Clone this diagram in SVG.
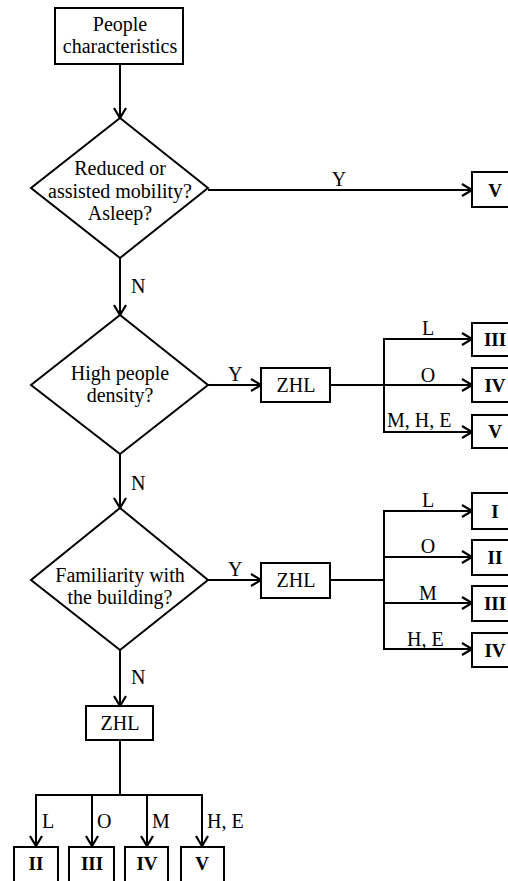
<svg xmlns="http://www.w3.org/2000/svg" width="508" height="881" viewBox="0 0 508 881" font-family="'Liberation Serif', 'DejaVu Serif', 'Times New Roman', serif">
<style>
.b{fill:#fff;stroke:#000;stroke-width:2}
.t{font-family:'Liberation Serif','DejaVu Serif',serif;font-size:20px;fill:#000}
.m{text-anchor:middle}
.r{font-weight:bold;font-size:19px}
.c{fill:none;stroke:#000;stroke-width:2}
</style>
<defs>
<marker id="ah" markerUnits="userSpaceOnUse" markerWidth="14" markerHeight="16" refX="11" refY="7" orient="auto" viewBox="0 0 14 16">
<path d="M1,1 L11,7 L1,13" fill="none" stroke="#000" stroke-width="2.2"/>
</marker>
</defs>
<rect width="508" height="881" fill="#fff"/>
<g id="connectors">
<line class="c" x1="120" y1="64" x2="120" y2="118" marker-end="url(#ah)"/>
<line class="c" x1="208" y1="190" x2="472" y2="190" marker-end="url(#ah)"/>
<line class="c" x1="120" y1="258" x2="120" y2="315" marker-end="url(#ah)"/>
<line class="c" x1="208" y1="385" x2="261" y2="385" marker-end="url(#ah)"/>
<line class="c" x1="330" y1="385" x2="383" y2="385"/>
<line class="c" x1="384" y1="339" x2="384" y2="432"/>
<line class="c" x1="383" y1="339" x2="472" y2="339" marker-end="url(#ah)"/>
<line class="c" x1="383" y1="385" x2="472" y2="385" marker-end="url(#ah)"/>
<line class="c" x1="383" y1="432" x2="472" y2="432" marker-end="url(#ah)"/>
<line class="c" x1="120" y1="454" x2="120" y2="508" marker-end="url(#ah)"/>
<line class="c" x1="208" y1="580" x2="261" y2="580" marker-end="url(#ah)"/>
<line class="c" x1="330" y1="580" x2="383" y2="580"/>
<line class="c" x1="384" y1="511" x2="384" y2="649"/>
<line class="c" x1="383" y1="511" x2="472" y2="511" marker-end="url(#ah)"/>
<line class="c" x1="383" y1="557" x2="472" y2="557" marker-end="url(#ah)"/>
<line class="c" x1="383" y1="603" x2="472" y2="603" marker-end="url(#ah)"/>
<line class="c" x1="383" y1="649" x2="472" y2="649" marker-end="url(#ah)"/>
<line class="c" x1="120" y1="650" x2="120" y2="706" marker-end="url(#ah)"/>
<line class="c" x1="120" y1="740" x2="120" y2="795"/>
<line class="c" x1="35" y1="795" x2="203" y2="795"/>
<line class="c" x1="36" y1="794" x2="36" y2="846" marker-end="url(#ah)"/>
<line class="c" x1="92" y1="794" x2="92" y2="846" marker-end="url(#ah)"/>
<line class="c" x1="147" y1="794" x2="147" y2="846" marker-end="url(#ah)"/>
<line class="c" x1="202" y1="794" x2="202" y2="846" marker-end="url(#ah)"/>
<text class="t m" x="339" y="186">Y</text>
<text class="t" x="131" y="293">N</text>
<text class="t" x="228" y="381">Y</text>
<text class="t m" x="428" y="335">L</text>
<text class="t m" x="428" y="382">O</text>
<text class="t" x="387" y="427">M, H, E</text>
<text class="t" x="131" y="490">N</text>
<text class="t" x="228" y="576">Y</text>
<text class="t m" x="428" y="507">L</text>
<text class="t m" x="428" y="553">O</text>
<text class="t m" x="428" y="600">M</text>
<text class="t" x="407" y="646">H, E</text>
<text class="t" x="131" y="684">N</text>
<text class="t" x="42" y="828">L</text>
<text class="t" x="97" y="828">O</text>
<text class="t" x="152" y="828">M</text>
<text class="t" x="207" y="828">H, E</text>
</g>
<g id="start">
<rect class="b" x="55" y="8" width="128" height="56"/>
<text class="t m" x="120" y="31">People</text>
<text class="t m" x="120" y="53">characteristics</text>
</g>
<g id="d1">
<polygon class="b" points="120,118 208,188 120,258 31,188"/>
<text class="t m" x="120" y="175">Reduced or</text>
<text class="t m" x="120" y="198">assisted mobility?</text>
<text class="t m" x="120" y="220">Asleep?</text>
</g>
<g id="d2">
<polygon class="b" points="120,315 208,385 120,454 31,385"/>
<text class="t m" x="120" y="380">High people</text>
<text class="t m" x="120" y="402">density?</text>
</g>
<g id="d3">
<polygon class="b" points="120,508 208,580 120,650 31,580"/>
<text class="t m" x="120" y="582">Familiarity with</text>
<text class="t m" x="120" y="604">the building?</text>
</g>
<g id="r1"><rect class="b" x="472" y="172" width="50" height="35"/><text class="t r m" x="495" y="197">V</text></g>
<g id="zhl1"><rect class="b" x="261" y="368" width="69" height="34"/><text class="t m" x="296" y="392">ZHL</text></g>
<g id="r2"><rect class="b" x="472" y="323" width="50" height="33"/><text class="t r m" x="495" y="346">III</text></g>
<g id="r3"><rect class="b" x="472" y="368" width="50" height="34"/><text class="t r m" x="495" y="392">IV</text></g>
<g id="r4"><rect class="b" x="472" y="415" width="50" height="33"/><text class="t r m" x="495" y="438">V</text></g>
<g id="zhl2"><rect class="b" x="261" y="563" width="69" height="35"/><text class="t m" x="296" y="587">ZHL</text></g>
<g id="r5"><rect class="b" x="472" y="493" width="50" height="36"/><text class="t r m" x="495" y="518">I</text></g>
<g id="r6"><rect class="b" x="472" y="540" width="50" height="35"/><text class="t r m" x="495" y="564">II</text></g>
<g id="r7"><rect class="b" x="472" y="586" width="50" height="35"/><text class="t r m" x="495" y="610">III</text></g>
<g id="r8"><rect class="b" x="472" y="633" width="50" height="34"/><text class="t r m" x="495" y="657">IV</text></g>
<g id="zhl3"><rect class="b" x="86" y="706" width="67" height="34"/><text class="t m" x="120" y="730">ZHL</text></g>
<g id="b1"><rect class="b" x="14" y="847" width="44" height="40"/><text class="t r m" x="36" y="870">II</text></g>
<g id="b2"><rect class="b" x="69" y="847" width="45" height="40"/><text class="t r m" x="92" y="870">III</text></g>
<g id="b3"><rect class="b" x="125" y="847" width="43" height="40"/><text class="t r m" x="147" y="870">IV</text></g>
<g id="b4"><rect class="b" x="181" y="847" width="43" height="40"/><text class="t r m" x="202" y="870">V</text></g>
</svg>
